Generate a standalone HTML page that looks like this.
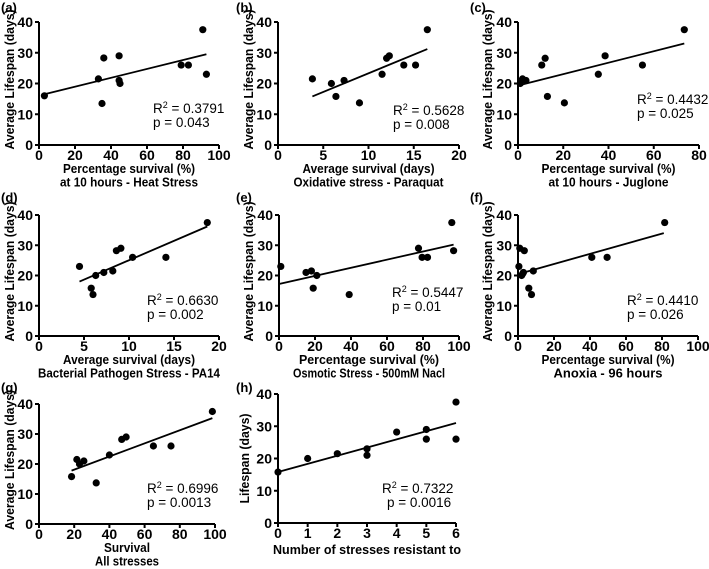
<!DOCTYPE html>
<html><head><meta charset="utf-8"><style>
body{margin:0;background:#fff}
svg{display:block;font-family:"Liberation Sans",Arial,sans-serif;font-weight:bold}
</style></head><body>
<svg id="fig" width="709" height="569" viewBox="0 0 709 569"></svg>
<script>
const ax = [3,33,35,36,44.5,44.5,45,79,83,91,93];
const ay = [16,21.5,13.5,28.3,29,21,20,26,26,37.5,23];
const bx = [3.8,5.9,6.4,7.3,9,11.5,12,12.3,13.9,15.2,16.5];
const by = [21.5,20,15.8,21,13.7,23,28.2,29,26,26,37.5];
const cx = [1,2,3.5,10.5,12,13,20.5,35.5,38.5,55,73.5];
const cy = [20,21.5,21,26,28.2,15.8,13.7,23,29,26,37.5];
const dx = [4.5,5.8,6,6.3,7.2,8.2,8.6,9.1,10.4,14.1,18.7];
const dy = [23,15.8,13.7,20,21,21.5,28.2,29,26,26,37.5];
const ex = [1,15,18,19,21,39,77.5,79.5,82.5,96,97];
const ey = [23,21,21.5,15.8,20,13.7,29,26,26,37.5,28.2];
const fx = [0.5,1,2,2.5,3,3.5,6,7.5,8.5,41,49.5,81.5];
const fy = [23,29,20,20.5,21,28.2,15.8,13.7,21.5,26,26,37.5];
const gx = [18.5,21.5,23,25.5,32.5,40,47,49.5,65,75,98.5];
const gy = [15.8,21.5,20,21,13.7,23,28.2,29,26,26,37.5];
const hx = [0,1,2,3,3,4,5,5,6,6];
const hy = [15.8,20,21.5,23,21,28.2,29,26,37.5,26];
const fitA = [[3,16.5],[93,29.5]];
const fitB = [[3.8,15.8],[16.5,31.2]];
const fitC = [[1,19.5],[73.5,33]];
const fitD = [[4.5,18],[18.7,36.2]];
const fitE = [[0,17.2],[97,30.2]];
const fitF = [[2,20.8],[81,34]];
const fitG = [[18.5,17.8],[98.5,35.3]];
const fitH = [[0,15.8],[6,31]];
const yTicks = [0,10,20,30,40];
const xTicksA = [0,20,40,60,80,100];
const xTicksB = [0,5,10,15,20];
const xTicksC = [0,20,40,60,80];
const xTicksH = [0,1,2,3,4,5,6];
const statsA = ["0.3791","0.043"], statsB=["0.5628","0.008"], statsC=["0.4432","0.025"], statsD=["0.6630","0.002"];
const statsE = ["0.5447","0.01"], statsF=["0.4410","0.026"], statsG=["0.6996","0.0013"], statsH=["0.7322","0.0016"];

const NS="http://www.w3.org/2000/svg";
const svg=document.getElementById('fig');
function mk(tag,attrs,parent,txt){const e=document.createElementNS(NS,tag);for(const k in attrs)e.setAttribute(k,attrs[k]);if(txt!==undefined)e.textContent=txt;(parent||svg).appendChild(e);return e;}

function panel(p){
  const g=mk('g',{});
  
  
  const sx=v=>p.x0+(v-p.xmin)/(p.xmax-p.xmin)*(p.x1-p.x0);
  const sy=v=>p.y0-(v/40)*(p.y0-p.y1);
  const lab=mk('text',{x:p.lx,y:p.ly,'font-size':13},g,'('+p.id+')');
  
  
  const yl=mk('line',{x1:p.x0,y1:p.y0,x2:p.x0,y2:p.y1,stroke:'#000','stroke-width':2},g);
  
  
  const xl=mk('line',{x1:p.x0-1,y1:p.y0,x2:p.x1,y2:p.y0,stroke:'#000','stroke-width':2},g);
  
  
  yTicks.forEach(t=>{
    mk('line',{x1:p.x0-4,x2:p.x0,y1:sy(t),y2:sy(t),stroke:'#000','stroke-width':2},g);
    const tl=mk('text',{x:p.x0-6,y:sy(t)+5,'font-size':14,'text-anchor':'end'},g,t);
    
    
  });
  p.xt.forEach(t=>{
    mk('line',{x1:sx(t),x2:sx(t),y1:p.y0,y2:p.y0+4,stroke:'#000','stroke-width':2},g);
    const tl=mk('text',{x:sx(t),y:p.y0+15,'font-size':14,'text-anchor':'middle'},g,t);
    
    
  });
  const yc=(p.y0+p.y1)/2+ (p.yshift||0);
  const yt=mk('text',{x:p.ytx,y:yc,'font-size':12.5,'text-anchor':'middle',textLength:p.ytl,lengthAdjust:'spacingAndGlyphs',transform:'rotate(-90 '+p.ytx+' '+yc+')'},g,p.ytitle);
  
  
  const xc=(p.x0+p.x1)/2;
  p.xtitle.forEach((s,i)=>{
    const t=mk('text',{x:xc,y:p.y0+p.xtOff+i*13.5,'font-size':12.5,'text-anchor':'middle',textLength:p.xtl[i],lengthAdjust:'spacingAndGlyphs'},g,s);
    
    
  });
  const fl=mk('line',{x1:sx(p.fit[0][0]),y1:sy(p.fit[0][1]),x2:sx(p.fit[1][0]),y2:sy(p.fit[1][1]),stroke:'#000','stroke-width':1.8},g);
  
  
  p.xs.forEach((v,i)=>{
    const c=mk('circle',{cx:sx(v),cy:sy(p.ys[i]),r:3.6,fill:'#000'},g);
    
    
  });
  const r=mk('text',{x:p.sx,y:p.sy,'font-size':13.5,'font-weight':'normal'},g);
  
  
  mk('tspan',{},r,'R');
  mk('tspan',{dy:-5,'font-size':9},r,'2');
  mk('tspan',{dy:5},r,' = '+p.st[0]);
  const pv=mk('text',{x:p.sx+(p.px||0),y:p.sy+14,'font-size':13.5,'font-weight':'normal'},g,'p = '+p.st[1]);
  
  
}
const YT='Average Lifespan (days)';
panel({id:'a',x0:39,x1:219,xmin:0,xmax:100,y0:145,y1:22,xt:xTicksA,xs:ax,ys:ay,fit:fitA,st:statsA,lx:1,ly:12,ytx:14,ytl:140,yshift:-4,ytitle:YT,xtitle:['Percentage survival (%)','at 10 hours - Heat Stress'],xtl:[132,138],xtOff:28,sx:153,sy:113});
panel({id:'b',x0:278,x1:459,xmin:0,xmax:20,y0:145,y1:22,xt:xTicksB,xs:bx,ys:by,fit:fitB,st:statsB,lx:236,ly:12,ytx:253,ytl:140,yshift:-4,ytitle:YT,xtitle:['Average survival (days)','Oxidative stress - Paraquat'],xtl:[132,150],xtOff:28,sx:393,sy:115});
panel({id:'c',x0:518,x1:699,xmin:0,xmax:80,y0:145,y1:22,xt:xTicksC,xs:cx,ys:cy,fit:fitC,st:statsC,lx:470,ly:12,ytx:492,ytl:140,yshift:-4,ytitle:YT,xtitle:['Percentage survival (%)','at 10 hours - Juglone'],xtl:[134,120],xtOff:28,sx:637,sy:104});
panel({id:'d',x0:39,x1:219,xmin:0,xmax:20,y0:336,y1:215,xt:xTicksB,xs:dx,ys:dy,fit:fitD,st:statsD,lx:1,ly:202,ytx:14,ytl:140,yshift:-4,ytitle:YT,xtitle:['Average survival (days)','Bacterial Pathogen Stress - PA14'],xtl:[132,182],xtOff:28,sx:147,sy:305});
panel({id:'e',x0:279,x1:459,xmin:0,xmax:100,y0:336,y1:215,xt:xTicksA,xs:ex,ys:ey,fit:fitE,st:statsE,lx:236,ly:202,ytx:253,ytl:140,yshift:-4,ytitle:YT,xtitle:['Percentage survival (%)','Osmotic Stress - 500mM Nacl'],xtl:[140,152],xtOff:28,sx:392,sy:297});
panel({id:'f',x0:518,x1:698,xmin:0,xmax:100,y0:336,y1:215,xt:xTicksA,xs:fx,ys:fy,fit:fitF,st:statsF,lx:470,ly:202,ytx:492,ytl:140,yshift:-4,ytitle:YT,xtitle:['Percentage survival (%)','Anoxia - 96 hours'],xtl:[133,109],xtOff:28,sx:627,sy:305});
panel({id:'g',x0:39,x1:215,xmin:0,xmax:100,y0:524,y1:404,xt:xTicksA,xs:gx,ys:gy,fit:fitG,st:statsG,lx:1,ly:392,ytx:14,ytl:140,yshift:-4,ytitle:YT,xtitle:['Survival','All stresses'],xtl:[46,64],xtOff:28,sx:147,sy:493});
panel({id:'h',x0:278,x1:456,xmin:0,xmax:6,y0:523,y1:394,xt:xTicksH,xs:hx,ys:hy,fit:fitH,st:statsH,lx:236,ly:392,ytx:249,ytl:90,ytitle:'Lifespan (days)',xtitle:['Number of stresses resistant to'],xtl:[188],xtOff:31,sx:382,sy:493,px:5});
</script>
</body></html>
